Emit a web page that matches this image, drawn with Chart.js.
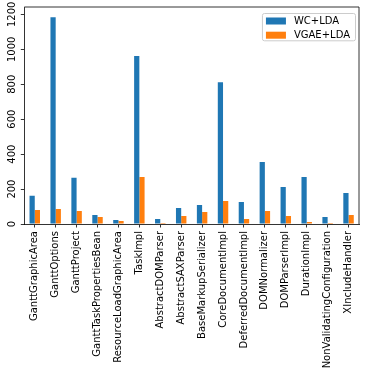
<!DOCTYPE html>
<html>
<head>
<meta charset="utf-8">
<script src="https://cdn.jsdelivr.net/npm/chart.js@4"></script>
<style>
  html, body { margin: 0; padding: 0; background: #fff; }
  #wrap { width: 366px; height: 376px; }
</style>
</head>
<body>
<div id="wrap"><canvas id="grafico"></canvas></div>
<script>
// data
const classes = ['GanttGraphicArea', 'GanttOptions', 'GanttProject', 'GanttTaskPropertiesBean',
    'ResourceLoadGraphicArea', 'TaskImpl', 'AbstractDOMParser', 'AbstractSAXParser',
    'BaseMarkupSerializer', 'CoreDocumentImpl', 'DeferredDocumentImpl', 'DOMNormalizer',
    'DOMParserImpl', 'DurationImpl', 'NonValidatingConfiguration', 'XIncludeHandler'];
const wcLda = [161, 1183, 264, 52, 23, 962, 29, 92, 109, 812, 126, 355, 212, 269, 40, 178];
const vgaeLda = [80, 86, 75, 40, 17, 269, 6, 46, 69, 132, 29, 75, 46, 11, 6, 52];
const yTicks = [0, 200, 400, 600, 800, 1000, 1200];

Chart.defaults.font.family = 'DejaVu Sans';
Chart.defaults.font.size = 10;
Chart.defaults.color = '#000';

// y labels turned upright like matplotlib, top/right spines and the framed legend
const extras = {
    id: 'extras',
    afterDraw(chart) {
        const ctx = chart.ctx;
        const a = chart.chartArea;
        const y = chart.scales.y;
        ctx.save();
        ctx.font = '10px "DejaVu Sans"';
        ctx.fillStyle = '#000';
        ctx.textAlign = 'center';
        ctx.textBaseline = 'alphabetic';
        yTicks.forEach(v => {
            const py = y.getPixelForValue(v);
            ctx.save();
            ctx.translate(15.3, py);
            ctx.rotate(-Math.PI / 2);
            ctx.fillText(String(v), 0, 0);
            ctx.restore();
        });
        // spines
        ctx.strokeStyle = '#000';
        ctx.lineWidth = 0.8;
        ctx.beginPath();
        ctx.moveTo(a.left, a.top);
        ctx.lineTo(a.right, a.top);
        ctx.lineTo(a.right, a.bottom);
        ctx.stroke();
        // legend
        const ds = chart.data.datasets;
        let maxW = 0;
        ds.forEach(d => { maxW = Math.max(maxW, ctx.measureText(d.label).width); });
        const right = a.right - 4;
        const w = 32 + maxW + 5;
        const left = right - w;
        const top = a.top + 6;
        const h = 27.3;
        ctx.fillStyle = 'rgba(255,255,255,0.8)';
        ctx.strokeStyle = '#cccccc';
        ctx.lineWidth = 1;
        ctx.beginPath();
        ctx.roundRect(left + 0.5, top + 0.5, w, h, 2);
        ctx.fill();
        ctx.stroke();
        ctx.textAlign = 'left';
        ctx.textBaseline = 'middle';
        ds.forEach((d, i) => {
            const cy = top + 8 + i * 14.2;
            ctx.fillStyle = d.backgroundColor;
            ctx.fillRect(left + 4, cy - 3.5, 20, 7);
            ctx.fillStyle = '#000';
            ctx.fillText(d.label, left + 32, cy + 0.5);
        });
        ctx.restore();
    }
};

new Chart(document.getElementById('grafico'), {
    type: 'bar',
    data: {
        labels: classes,
        datasets: [
            { label: 'WC+LDA', data: wcLda, backgroundColor: '#1f77b4', borderWidth: 0 },
            { label: 'VGAE+LDA', data: vgaeLda, backgroundColor: '#ff7f0e', borderWidth: 0 }
        ]
    },
    options: {
        responsive: true,
        maintainAspectRatio: false,
        animation: false,
        categoryPercentage: 0.5,
        barPercentage: 1.0,
        layout: { padding: { top: 7, right: 7, left: 0, bottom: 0 } },
        plugins: { legend: { display: false }, tooltip: { enabled: false } },
        scales: {
            x: {
                offset: true,
                grid: { offset: false, drawOnChartArea: false, drawTicks: true, tickLength: 3.5, tickWidth: 0.8, tickColor: '#000' },
                border: { display: true, color: '#000', width: 0.8 },
                ticks: { minRotation: 90, maxRotation: 90, autoSkip: false, padding: 3.5, color: '#000' },
                afterFit(s) { s.height = 152; }
            },
            y: {
                min: 0,
                max: 1242,
                afterBuildTicks(s) { s.ticks = yTicks.map(v => ({ value: v })); },
                grid: { drawOnChartArea: false, drawTicks: true, tickLength: 3.5, tickWidth: 0.8, tickColor: '#000' },
                border: { display: true, color: '#000', width: 0.8 },
                ticks: { display: false },
                afterFit(s) { s.width = 24.3; }
            }
        }
    },
    plugins: [extras]
});
</script>
</body>
</html>
